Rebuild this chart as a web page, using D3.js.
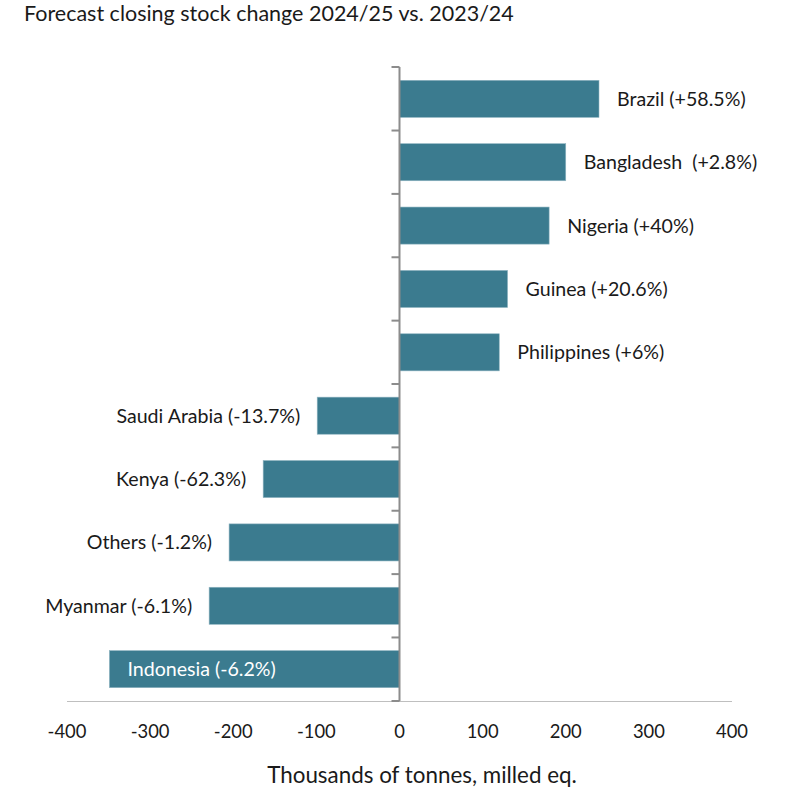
<!DOCTYPE html>
<html>
<head>
<meta charset="utf-8">
<script src="https://cdn.jsdelivr.net/npm/d3@7"></script>
<style>
  body { margin: 0; background: #fff; }
  svg text { font-family: Lato, "Open Sans", sans-serif; fill: #1a1a1a; }
</style>
</head>
<body>
<div id="chart"></div>
<script>
// countries top to bottom, change in thousand tonnes
const countries = ['Brazil', 'Bangladesh', 'Nigeria', 'Guinea', 'Philippines',
  'Saudi Arabia', 'Kenya', 'Others', 'Myanmar', 'Indonesia']
const changes = [240, 200, 180, 130, 120, -99, -164, -205, -229, -349]
const pctLabels = ['(+58.5%)', ' (+2.8%)', '(+40%)', '(+20.6%)', '(+6%)',
  '(-13.7%)', '(-62.3%)', '(-1.2%)', '(-6.1%)', '(-6.2%)']
const xTicks = [-400, -300, -200, -100, 0, 100, 200, 300, 400]

const W = 789, H = 789
const BAR = '#3b7b8f'

const data = countries.map((c, i) => ({ name: c, value: changes[i], label: c + ' ' + pctLabels[i] }))

const svg = d3.select('#chart').append('svg')
    .attr('width', W)
    .attr('height', H)

const x = d3.scaleLinear()
    .domain([-400, 400])
    .range([67, 732])

const y = d3.scaleBand()
    .domain(countries)
    .range([67, 701])
    .paddingInner(0.415)
    .paddingOuter(0.21)

// title
svg.append('text')
    .attr('x', 24)
    .attr('y', 21)
    .style('font-size', '21.5px')
    .text('Forecast closing stock change 2024/25 vs. 2023/24')

// bars
svg.selectAll('rect.bar').data(data).enter()
  .append('rect')
    .attr('class', 'bar')
    .attr('x', d => x(Math.min(0, d.value)))
    .attr('y', d => y(d.name))
    .attr('width', d => Math.abs(x(d.value) - x(0)))
    .attr('height', y.bandwidth())
    .attr('fill', BAR)
    .attr('stroke', '#8fb4c1')
    .attr('stroke-width', 0.6)

// bottom axis line + labels
svg.append('line')
    .attr('x1', x(-400)).attr('x2', x(400))
    .attr('y1', 701.5).attr('y2', 701.5)
    .attr('stroke', '#bfbfbf')
    .attr('stroke-width', 1)

svg.selectAll('text.tick').data(xTicks).enter()
  .append('text')
    .attr('class', 'tick')
    .attr('x', d => x(d))
    .attr('y', 738)
    .attr('text-anchor', 'middle')
    .style('font-size', '18.4px')
    .text(d => d)

// vertical category axis at zero
const yEdges = countries.map(c => y(c) - y.step() * y.paddingInner() / 2)
yEdges[0] = 67
yEdges.push(701)

svg.append('line')
    .attr('x1', x(0)).attr('x2', x(0))
    .attr('y1', 67).attr('y2', 701)
    .attr('stroke', '#8c8c8c')
    .attr('stroke-width', 2)

svg.selectAll('line.ytick').data(yEdges).enter()
  .append('line')
    .attr('class', 'ytick')
    .attr('x1', x(0) - 8).attr('x2', x(0))
    .attr('y1', d => d).attr('y2', d => d)
    .attr('stroke', '#8c8c8c')
    .attr('stroke-width', 2)

// bar labels
svg.selectAll('text.lbl').data(data).enter()
  .append('text')
    .attr('class', 'lbl')
    .attr('x', d => {
      if (d.name === 'Indonesia') return x(d.value) + 18
      return d.value > 0 ? x(d.value) + 18 : x(d.value) - 17
    })
    .attr('y', d => y(d.name) + y.bandwidth() / 2)
    .attr('dy', '0.36em')
    .attr('text-anchor', d => (d.value > 0 || d.name === 'Indonesia') ? 'start' : 'end')
    .style('font-size', '19.6px')
    .style('fill', d => d.name === 'Indonesia' ? '#fff' : '#1a1a1a')
    .style('white-space', 'pre')
    .text(d => d.label)

// x axis title
svg.append('text')
    .attr('x', 422)
    .attr('y', 783)
    .attr('text-anchor', 'middle')
    .style('font-size', '22.4px')
    .text('Thousands of tonnes, milled eq.')
</script>
</body>
</html>
